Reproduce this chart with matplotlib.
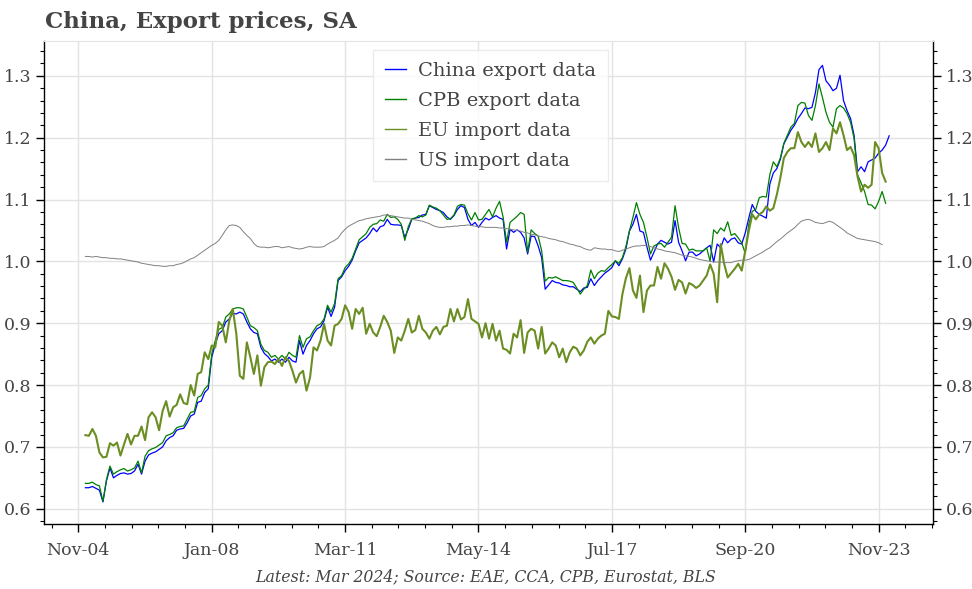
import numpy as np
import matplotlib
matplotlib.use("Agg")
import matplotlib.pyplot as plt
from matplotlib.ticker import MultipleLocator, FixedLocator, FixedFormatter

# months counted from Nov 2004; every series starts Jan 2005
start_month = 2
tick_months = [0, 38, 76, 114, 152, 190, 228]
tick_labels = ["Nov-04", "Jan-08", "Mar-11", "May-14", "Jul-17", "Sep-20", "Nov-23"]

china_export = [
    0.634, 0.634, 0.636, 0.633, 0.630, 0.611, 0.645, 0.666, 0.650, 0.654,
    0.657, 0.658, 0.656, 0.657, 0.661, 0.672, 0.656, 0.677, 0.687, 0.690,
    0.692, 0.696, 0.700, 0.710, 0.715, 0.718, 0.727, 0.729, 0.730, 0.739,
    0.750, 0.753, 0.772, 0.774, 0.788, 0.794, 0.845, 0.866, 0.883, 0.888,
    0.902, 0.907, 0.916, 0.915, 0.918, 0.915, 0.902, 0.891, 0.885, 0.883,
    0.861, 0.851, 0.846, 0.839, 0.842, 0.837, 0.842, 0.837, 0.845, 0.839,
    0.837, 0.872, 0.850, 0.864, 0.872, 0.883, 0.891, 0.894, 0.904, 0.926,
    0.911, 0.926, 0.969, 0.975, 0.985, 0.992, 1.002, 1.017, 1.030, 1.034,
    1.038, 1.045, 1.054, 1.048, 1.056, 1.058, 1.068, 1.060, 1.059, 1.059,
    1.058, 1.039, 1.052, 1.068, 1.070, 1.071, 1.075, 1.076, 1.090, 1.087,
    1.084, 1.082, 1.079, 1.072, 1.068, 1.074, 1.084, 1.090, 1.087, 1.068,
    1.058, 1.063, 1.055, 1.063, 1.070, 1.067, 1.071, 1.074, 1.070, 1.068,
    1.020, 1.052, 1.047, 1.051, 1.047, 1.038, 1.012, 1.041, 1.040, 1.025,
    1.006, 0.955, 0.962, 0.969, 0.966, 0.965, 0.962, 0.961, 0.959, 0.959,
    0.955, 0.951, 0.957, 0.958, 0.972, 0.961, 0.969, 0.975, 0.981, 0.985,
    0.990, 1.001, 0.993, 1.004, 1.020, 1.049, 1.060, 1.076, 1.049, 1.047,
    1.023, 1.002, 1.015, 1.028, 1.034, 1.031, 1.028, 1.031, 1.066, 1.031,
    1.017, 1.001, 1.015, 1.015, 1.009, 1.012, 1.017, 1.022, 1.026, 0.999,
    1.028, 1.022, 1.038, 1.030, 1.036, 1.038, 1.030, 1.028, 1.046, 1.070,
    1.092, 1.081, 1.076, 1.073, 1.070, 1.125, 1.143, 1.150, 1.165, 1.190,
    1.201, 1.212, 1.220, 1.231, 1.239, 1.248, 1.247, 1.249, 1.273, 1.310,
    1.317, 1.292, 1.285, 1.276, 1.280, 1.301, 1.260, 1.244, 1.231, 1.204,
    1.145, 1.153, 1.145, 1.161, 1.164, 1.167, 1.175, 1.180, 1.188, 1.203,
]

cpb_export = [
    0.641, 0.641, 0.643, 0.639, 0.637, 0.612, 0.647, 0.669, 0.656, 0.660,
    0.663, 0.665, 0.661, 0.663, 0.666, 0.677, 0.658, 0.685, 0.694, 0.697,
    0.699, 0.703, 0.707, 0.718, 0.720, 0.723, 0.731, 0.733, 0.734, 0.745,
    0.756, 0.757, 0.780, 0.783, 0.794, 0.800, 0.850, 0.872, 0.890, 0.893,
    0.910, 0.915, 0.923, 0.925, 0.925, 0.923, 0.910, 0.896, 0.893, 0.888,
    0.866, 0.856, 0.853, 0.845, 0.848, 0.842, 0.848, 0.842, 0.853, 0.848,
    0.845, 0.880, 0.861, 0.875, 0.878, 0.888, 0.896, 0.899, 0.907, 0.929,
    0.918, 0.932, 0.972, 0.977, 0.990, 0.996, 1.005, 1.020, 1.035, 1.040,
    1.045, 1.055, 1.060, 1.061, 1.067, 1.065, 1.076, 1.071, 1.072, 1.068,
    1.060, 1.034, 1.056, 1.069, 1.070, 1.074, 1.072, 1.075, 1.091, 1.088,
    1.086, 1.082, 1.075, 1.068, 1.069, 1.075, 1.089, 1.092, 1.091, 1.077,
    1.067, 1.079, 1.067, 1.068, 1.076, 1.084, 1.072, 1.086, 1.097, 1.072,
    1.031, 1.063, 1.068, 1.073, 1.079, 1.076, 1.015, 1.051, 1.045, 1.041,
    1.017, 0.968, 0.974, 0.973, 0.975, 0.972, 0.969, 0.969, 0.968, 0.966,
    0.957, 0.947, 0.955, 0.961, 0.986, 0.972, 0.981, 0.985, 0.984, 0.990,
    0.995, 1.001, 0.997, 1.006, 1.024, 1.049, 1.071, 1.095, 1.076, 1.063,
    1.039, 1.012, 1.025, 1.028, 1.029, 1.023, 1.031, 1.039, 1.090, 1.055,
    1.029, 1.028, 1.018, 1.020, 1.017, 1.017, 1.017, 1.022, 1.000, 1.051,
    1.045, 1.054, 1.049, 1.064, 1.042, 1.045, 1.038, 1.030, 1.013, 1.060,
    1.081, 1.084, 1.103, 1.105, 1.104, 1.140, 1.161, 1.153, 1.167, 1.191,
    1.204, 1.217, 1.223, 1.252, 1.257, 1.256, 1.236, 1.228, 1.252, 1.287,
    1.265, 1.241, 1.225, 1.217, 1.247, 1.252, 1.248, 1.239, 1.225, 1.199,
    1.140, 1.127, 1.113, 1.092, 1.091, 1.085, 1.097, 1.113, 1.094,
]

eu_import = [
    0.719, 0.718, 0.729, 0.718, 0.691, 0.683, 0.684, 0.706, 0.702, 0.707,
    0.686, 0.704, 0.721, 0.704, 0.718, 0.718, 0.733, 0.711, 0.748, 0.756,
    0.748, 0.727, 0.758, 0.774, 0.749, 0.764, 0.768, 0.785, 0.771, 0.769,
    0.800, 0.783, 0.818, 0.821, 0.853, 0.842, 0.864, 0.861, 0.902, 0.896,
    0.869, 0.904, 0.923, 0.883, 0.815, 0.810, 0.869, 0.845, 0.818, 0.848,
    0.799, 0.829, 0.837, 0.838, 0.834, 0.842, 0.831, 0.845, 0.839, 0.823,
    0.804, 0.818, 0.823, 0.791, 0.812, 0.861, 0.856, 0.872, 0.899, 0.872,
    0.864, 0.896, 0.899, 0.907, 0.929, 0.918, 0.891, 0.923, 0.915, 0.925,
    0.883, 0.899, 0.885, 0.879, 0.894, 0.912, 0.902, 0.888, 0.852, 0.877,
    0.872, 0.888, 0.907, 0.885, 0.889, 0.912, 0.891, 0.885, 0.875, 0.888,
    0.894, 0.882, 0.894, 0.896, 0.923, 0.903, 0.923, 0.906, 0.910, 0.939,
    0.907, 0.903, 0.899, 0.877, 0.900, 0.875, 0.899, 0.872, 0.888, 0.859,
    0.857, 0.851, 0.883, 0.877, 0.905, 0.852, 0.885, 0.891, 0.888, 0.859,
    0.894, 0.851, 0.859, 0.869, 0.864, 0.845, 0.859, 0.837, 0.853, 0.862,
    0.859, 0.848, 0.856, 0.870, 0.877, 0.867, 0.875, 0.880, 0.883, 0.920,
    0.911, 0.910, 0.907, 0.947, 0.973, 0.989, 0.953, 0.941, 0.977, 0.918,
    0.953, 0.961, 0.961, 0.991, 0.972, 0.997, 0.988, 0.975, 0.954, 0.970,
    0.966, 0.948, 0.965, 0.962, 0.957, 0.961, 0.969, 0.977, 0.995, 0.980,
    0.934, 1.028, 0.996, 0.974, 0.981, 0.988, 0.996, 0.985, 1.017, 1.049,
    1.076, 1.068, 1.076, 1.080, 1.089, 1.082, 1.086, 1.108, 1.135, 1.167,
    1.177, 1.183, 1.183, 1.209, 1.193, 1.185, 1.193, 1.185, 1.207, 1.177,
    1.183, 1.193, 1.180, 1.215, 1.207, 1.225, 1.204, 1.180, 1.185, 1.172,
    1.137, 1.113, 1.124, 1.119, 1.124, 1.193, 1.183, 1.143, 1.129,
]

us_import = [
    1.008, 1.008, 1.007, 1.008, 1.007, 1.006, 1.006, 1.005, 1.005, 1.004,
    1.004, 1.003, 1.002, 1.001, 1.000, 0.999, 0.997, 0.996, 0.995, 0.994,
    0.993, 0.993, 0.992, 0.992, 0.993, 0.993, 0.995, 0.996, 0.998, 1.001,
    1.004, 1.006, 1.010, 1.014, 1.018, 1.022, 1.026, 1.029, 1.034, 1.042,
    1.051, 1.058, 1.059, 1.058, 1.055, 1.048, 1.042, 1.037, 1.029, 1.024,
    1.023, 1.023, 1.022, 1.023, 1.024, 1.024, 1.022, 1.023, 1.024, 1.022,
    1.021, 1.020, 1.021, 1.023, 1.024, 1.023, 1.023, 1.023, 1.024, 1.028,
    1.031, 1.034, 1.038, 1.046, 1.052, 1.057, 1.060, 1.063, 1.066, 1.067,
    1.069, 1.070, 1.071, 1.072, 1.073, 1.075, 1.075, 1.074, 1.073, 1.072,
    1.071, 1.070, 1.070, 1.068, 1.067, 1.066, 1.065, 1.063, 1.061, 1.058,
    1.056, 1.055, 1.055, 1.056, 1.056, 1.057, 1.057, 1.058, 1.058, 1.059,
    1.058, 1.057, 1.056, 1.056, 1.055, 1.055, 1.055, 1.055, 1.054, 1.054,
    1.053, 1.052, 1.051, 1.050, 1.049, 1.047, 1.046, 1.044, 1.043, 1.041,
    1.040, 1.039, 1.037, 1.036, 1.035, 1.033, 1.032, 1.030, 1.028, 1.027,
    1.025, 1.024, 1.021, 1.019, 1.018, 1.022, 1.021, 1.020, 1.020, 1.019,
    1.019, 1.017, 1.016, 1.018, 1.020, 1.022, 1.024, 1.025, 1.025, 1.026,
    1.025, 1.024, 1.022, 1.020, 1.019, 1.017, 1.016, 1.015, 1.014, 1.012,
    1.010, 1.009, 1.008, 1.007, 1.005, 1.003, 1.002, 1.001, 1.000, 0.999,
    0.999, 0.999, 0.998, 0.998, 0.998, 1.000, 1.001, 1.002, 1.002, 1.003,
    1.006, 1.009, 1.012, 1.015, 1.019, 1.022, 1.027, 1.032, 1.036, 1.041,
    1.046, 1.050, 1.054, 1.060, 1.065, 1.067, 1.068, 1.066, 1.063, 1.062,
    1.061, 1.063, 1.065, 1.063, 1.059, 1.055, 1.051, 1.046, 1.043, 1.040,
    1.037, 1.036, 1.035, 1.034, 1.033, 1.032, 1.030, 1.027,
]

series = [
    ("China export data", china_export, "#0000ff", 0.9),
    ("CPB export data", cpb_export, "#008000", 0.9),
    ("EU import data", eu_import, "#6b8e23", 1.5),
    ("US import data", us_import, "#808080", 0.7),
]

text_color = "#444444"
grid_color = "#e3e3e3"
plt.rcParams["font.family"] = ["DejaVu Serif"]

fig = plt.figure(figsize=(9.72, 5.89), dpi=100)
ax = fig.add_axes([0.0456, 0.110, 0.9143, 0.820])

for name, values, color, lw in series:
    x = start_month + np.arange(len(values))
    ax.plot(x, values, color=color, lw=lw, label=name)

ax.set_xlim(-9.7, 243.5)
ax.set_ylim(0.575, 1.356)

ax.xaxis.set_major_locator(FixedLocator(tick_months))
ax.xaxis.set_major_formatter(FixedFormatter(tick_labels))
ax.xaxis.set_minor_locator(MultipleLocator(7.6))
ax.yaxis.set_major_locator(MultipleLocator(0.1))
ax.yaxis.set_minor_locator(MultipleLocator(0.02))
ax.yaxis.set_major_formatter(matplotlib.ticker.FormatStrFormatter("%.1f"))

ax.tick_params(which="both", direction="out", colors="black",
               labelcolor=text_color, labelsize=12.5,
               left=True, right=True, labelleft=True, labelright=True)
ax.tick_params(which="major", length=6, width=1)
ax.tick_params(which="minor", length=3, width=0.8)
ax.tick_params(axis="x", pad=7)
ax.tick_params(axis="y", pad=3)

ax.grid(True, which="major", color=grid_color, lw=1)
ax.set_axisbelow(True)
ax.spines["top"].set_color(grid_color)
for side in ("left", "right", "bottom"):
    ax.spines[side].set_color("black")
    ax.spines[side].set_linewidth(1.0)

leg = ax.legend(loc="upper left", bbox_to_anchor=(0.37, 0.982), fontsize=14,
                frameon=True, fancybox=False, handlelength=1.1,
                handletextpad=0.6, labelspacing=0.62, borderpad=0.6,
                borderaxespad=0)
leg.get_frame().set_edgecolor("#e6e6e6")
leg.get_frame().set_linewidth(1)
for t in leg.get_texts():
    t.set_color(text_color)
for h in leg.get_lines():
    h.set_linewidth(1.0)

fig.text(0.046, 0.962, "China, Export prices, SA", fontsize=16.5,
         fontweight="bold", color=text_color, ha="left", va="center")
fig.text(0.5, 0.021, "Latest: Mar 2024; Source: EAE, CCA, CPB, Eurostat, BLS",
         fontsize=11.3, style="italic", color=text_color, ha="center", va="center")

fig.savefig("out.png", dpi=100)
